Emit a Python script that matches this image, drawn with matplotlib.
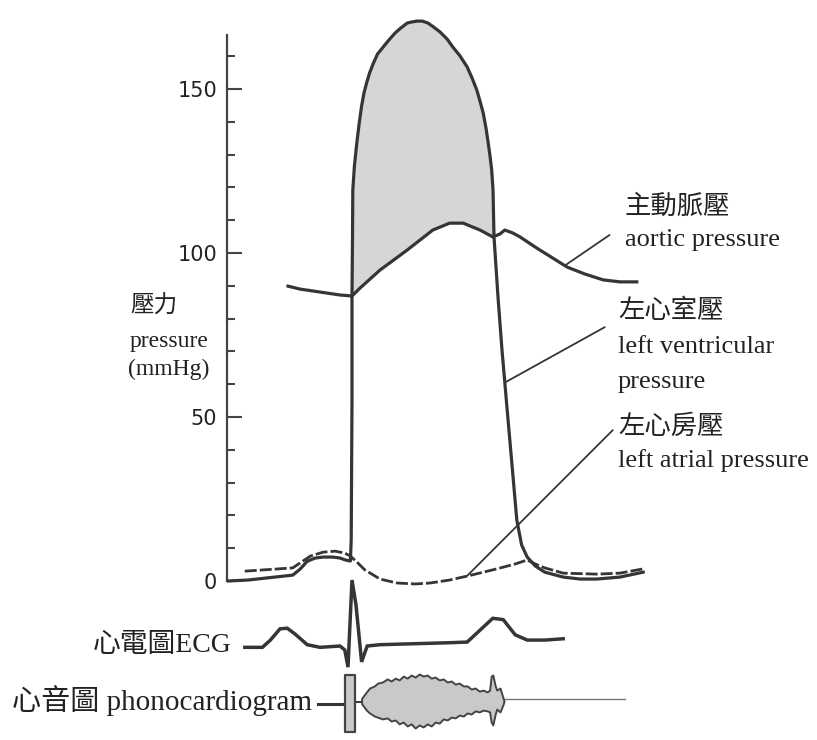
import numpy as np
import matplotlib
matplotlib.use("Agg")
import matplotlib.pyplot as plt

# ---------------- data (time in ms, pressure in mmHg) ----------------
lv_t = [-6, 20, 76, 85, 94, 104, 114, 126, 135, 142, 148, 149, 150, 150,
        150.6, 151, 153, 156, 159, 162, 165, 168.4, 172, 176.6, 182, 189, 196, 204, 211,
        219, 224, 231, 238, 245, 252, 260, 269, 276, 285, 294, 300, 306, 310, 314,
        317.5, 320, 322.5, 324.6, 326.3, 326.8, 327.5,
        332.5, 337.5, 344, 350, 356, 362, 369, 379, 391, 414, 435, 456, 485, 514]
lv_p = [0.0, 0.3, 1.8, 3.6, 6.0, 7.0, 7.3, 7.3, 7.0, 6.4, 6.1, 12.5, 55.2, 87.2,
        103.4, 119.2, 126.5, 133.5, 139.6, 144.8, 148.8, 152.0, 154.9, 157.8, 160.7, 162.8, 164.9, 167.1, 168.6,
        170.1, 170.4, 170.7, 170.7, 170.1, 168.9, 167.4, 165.2, 162.8, 160.1, 156.7, 153.4, 149.7, 146.3, 142.7,
        138.1, 134.0, 129.6, 125.3, 119.2, 113.1, 104.9,
        86.6, 70.4, 52.1, 35.4, 18.6, 11.0, 7.3, 4.6, 2.7, 1.2, 0.6, 0.6, 1.2, 2.7]

aortic_t = [70, 85, 110, 135, 150, 160, 185, 219, 251, 272, 289, 310, 326, 335, 341, 351,
            360, 381, 419, 441, 464, 485, 506]
aortic_p = [89.9, 89.0, 88.1, 87.2, 86.9, 89.3, 94.8, 100.9, 107.0, 109.1, 109.1, 107.0, 104.9, 105.8, 107.0, 106.1,
            104.9, 101.5, 95.7, 93.6, 91.8, 91.2, 91.2]

atrial_t = [16, 76, 85, 98, 114, 129, 141, 148, 156, 166, 185, 206, 229, 248, 272, 294,
            331, 354, 369, 379, 391, 414, 456, 485, 514]
atrial_p = [3.0, 4.0, 5.5, 7.6, 8.8, 9.1, 8.5, 7.6, 5.8, 3.4, 0.6, -0.6, -0.9, -0.6, 0.3, 1.5,
            3.7, 5.2, 6.4, 5.2, 4.0, 2.4, 2.1, 2.4, 3.7]

# ECG (mV)
ecg_t = [16, 38, 48, 60, 69, 79, 94, 110, 135, 141, 145, 150, 155, 162, 169, 185, 272,
         294, 310, 326, 339, 354, 369, 391, 414]
ecg_v = [-0.02, -0.02, 0.09, 0.26, 0.27, 0.18, 0.02, -0.02, 0.0, -0.06, -0.32, 1.0, 0.62, -0.24, 0.0, 0.02, 0.05,
         0.06, 0.24, 0.42, 0.40, 0.17, 0.09, 0.09, 0.11]

# phonocardiogram (relative amplitude)
s1_t = [141, 154]
s1_amp = [1.0, -1.2]
phono_lead_t = [108, 141]
phono_gap_t = [154, 162]
phono_tail_t = [340, 491]
blob_t = [162, 168, 172, 178, 182, 188, 194, 199, 204, 209, 214, 219, 224, 229, 234, 239,
          244, 249, 254, 259, 264, 269, 274, 279, 284, 289, 294, 299, 304, 309, 314, 319,
          322, 324, 326, 329, 331, 335, 339, 340]
blob_up = [0.1, 0.35, 0.5, 0.58, 0.69, 0.73, 0.85, 0.77, 0.88, 0.81, 0.96, 0.88, 1.0, 0.92, 1.04, 0.96,
           1.0, 0.88, 0.92, 0.81, 0.85, 0.73, 0.77, 0.65, 0.69, 0.58, 0.58, 0.46, 0.5, 0.38, 0.42, 0.35,
           0.42, 0.96, 1.0, 0.58, 0.42, 0.5, 0.1, 0.0]
blob_lo = [-0.1, -0.35, -0.46, -0.58, -0.62, -0.69, -0.65, -0.77, -0.73, -0.88, -0.81, -0.96, -0.88, -1.04, -0.92, -1.0,
           -0.88, -0.96, -0.81, -0.85, -0.69, -0.73, -0.62, -0.65, -0.54, -0.58, -0.46, -0.5, -0.38, -0.42, -0.35, -0.38,
           -0.42, -0.81, -0.92, -0.5, -0.31, -0.42, -0.12, 0.0]

major_ticks = [0, 50, 100, 150]
minor_ticks = [10, 20, 30, 40, 60, 70, 80, 90, 110, 120, 130, 140, 160]

# ---------------- figure ----------------
W, H = 817, 740
fig = plt.figure(figsize=(W / 100, H / 100), dpi=100)
fig.patch.set_facecolor("white")

def fx(x):
    return x / W

def fy(y):
    return 1 - y / H

ink = "#353535"
lw_main = 2.3

XL = (-6.25, 731.25)
ax_left, ax_w = 227 / W, 590 / W

ax = fig.add_axes([ax_left, 150 / H, ax_w, 575 / H])
ax.set_facecolor("none")
ax.set_xlim(*XL)
ax.set_ylim(-2.74, 172.56)

lv_t_a, lv_p_a = np.array(lv_t), np.array(lv_p)
ao_t_a, ao_p_a = np.array(aortic_t), np.array(aortic_p)
m1 = (lv_t_a >= 150) & (lv_t_a <= 328) & (lv_p_a >= 86)
m2 = (ao_t_a >= 150) & (ao_t_a <= 326)
poly_t = np.concatenate([lv_t_a[m1], ao_t_a[m2][::-1]])
poly_p = np.concatenate([lv_p_a[m1], ao_p_a[m2][::-1]])
ax.fill(poly_t, poly_p, color="#d6d6d6", lw=0, zorder=1)

ax.plot(aortic_t, aortic_p, color=ink, lw=lw_main, solid_joinstyle="round", zorder=3)
ax.plot(atrial_t, atrial_p, color=ink, lw=2.0, dashes=(4.3, 1.1), zorder=3)
ax.plot(lv_t, lv_p, color=ink, lw=lw_main, solid_joinstyle="round", zorder=4)

# axis
for s in ["top", "right", "bottom"]:
    ax.spines[s].set_visible(False)
ax.spines["left"].set_bounds(0, 166.5)
ax.spines["left"].set_color("#444444")
ax.spines["left"].set_linewidth(1.6)
ax.set_xticks([])
ax.set_yticks(major_ticks)
ax.set_yticks(minor_ticks, minor=True)
ax.set_yticklabels([str(v) for v in major_ticks])
ax.tick_params(axis="y", which="major", direction="in", length=11, width=1.5,
               color="#444444", labelsize=15, labelcolor="#222222", pad=7)
ax.tick_params(axis="y", which="minor", direction="in", length=6, width=1.5, color="#444444")

# leader lines
lead = dict(arrowstyle="-", color=ink, lw=1.3, shrinkA=0, shrinkB=0)
ax.annotate("", xy=(418, 96.5), xytext=(472, 105.5), arrowprops=lead)
ax.annotate("", xy=(341, 60.5), xytext=(466, 77.4), arrowprops=lead)
ax.annotate("", xy=(294, 1.6), xytext=(476, 46.0), arrowprops=lead)

# ECG
ax_e = fig.add_axes([ax_left, 60 / H, ax_w, 110 / H])
ax_e.set_facecolor("none")
ax_e.set_xlim(*XL)
ax_e.set_ylim(-0.515, 1.152)
ax_e.axis("off")
ax_e.plot(ecg_t, ecg_v, color=ink, lw=2.5, solid_joinstyle="miter")

# Phonocardiogram
ax_p = fig.add_axes([ax_left, 0, ax_w, 75 / H])
ax_p.set_facecolor("none")
ax_p.set_xlim(*XL)
ax_p.set_ylim(-1.5, 1.385)
ax_p.axis("off")
ax_p.plot(phono_lead_t, [-0.12, -0.12], color=ink, lw=2.2)
ax_p.plot(phono_gap_t, [-0.05, -0.05], color=ink, lw=1.4)
ax_p.plot(phono_tail_t, [0.08, 0.08], color="#777777", lw=1.0)
ax_p.fill_between(s1_t, [s1_amp[1]] * 2, [s1_amp[0]] * 2, facecolor="#c9c9c9",
                  edgecolor="#444444", lw=1.6, zorder=3)
ax_p.fill_between(blob_t, blob_lo, blob_up, facecolor="#c9c9c9", edgecolor="#444444",
                  lw=1.4, zorder=3)

# ---------------- text ----------------
mixed = ["Liberation Serif", "Noto Sans CJK TC"]
cjk = ["Noto Sans CJK TC", "DejaVu Sans"]
tc = "#222222"

fig.text(fx(625), fy(206), "主動脈壓", family=cjk, fontsize=19, va="center", ha="left", color=tc)
fig.text(fx(625), fy(240), "aortic pressure", family=mixed, fontsize=19, va="center", ha="left", color=tc)
fig.text(fx(618), fy(311), "左心室壓", family=cjk, fontsize=19, va="center", ha="left", color=tc)
fig.text(fx(618), fy(347), "left ventricular", family=mixed, fontsize=19, va="center", ha="left", color=tc)
fig.text(fx(618), fy(382), "pressure", family=mixed, fontsize=19, va="center", ha="left", color=tc)
fig.text(fx(618), fy(426), "左心房壓", family=cjk, fontsize=19, va="center", ha="left", color=tc)
fig.text(fx(618), fy(461), "left atrial pressure", family=mixed, fontsize=19, va="center", ha="left", color=tc)

fig.text(fx(130), fy(306), "壓力", family=cjk, fontsize=17, va="center", ha="left", color=tc)
fig.text(fx(130), fy(341), "pressure", family=mixed, fontsize=17, va="center", ha="left", color=tc)
fig.text(fx(128), fy(369), "(mmHg)", family=mixed, fontsize=17, va="center", ha="left", color=tc)

fig.text(fx(232), fy(646), "心電圖ECG", family=mixed, fontsize=20, va="center", ha="right", color=tc)
fig.text(fx(312), fy(701), "心音圖 phonocardiogram", family=mixed, fontsize=21, va="center", ha="right", color=tc)

fig.savefig("out.png", dpi=100, facecolor="white")
